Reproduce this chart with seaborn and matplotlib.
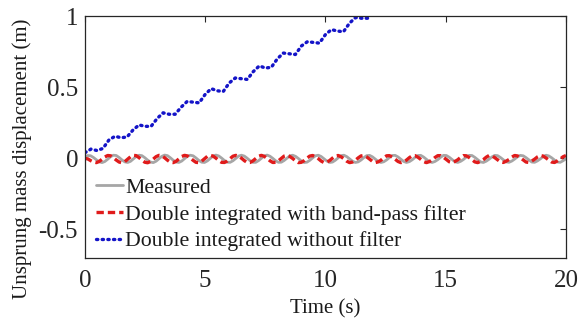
import numpy as np
import pandas as pd
import matplotlib
matplotlib.use("Agg")
import matplotlib.pyplot as plt
import seaborn as sns

# ---- data ----
measured = [
    0.010, 0.020, 0.018, 0.006, -0.010, -0.024, -0.030, -0.022,
    -0.006, 0.012, 0.022, 0.020, 0.006, -0.011, -0.025, -0.029, -0.021,
    -0.004, 0.013, 0.022, 0.019, 0.005, -0.012, -0.026, -0.030,
    -0.020, -0.003, 0.014, 0.023, 0.019, 0.004, -0.013, -0.026, -0.029,
    -0.019, -0.002, 0.015, 0.022, 0.018, 0.003, -0.014, -0.027, -0.029,
    -0.018, -0.001, 0.016, 0.023, 0.017, 0.002, -0.015, -0.027, -0.028,
    -0.017, 0.000, 0.016, 0.022, 0.016, 0.001, -0.016, -0.028, -0.028,
    -0.016, 0.001, 0.017, 0.023, 0.015, 0.000, -0.017, -0.028, -0.027,
    -0.015, 0.002, 0.018, 0.022, 0.014, -0.001, -0.018, -0.029, -0.027,
    -0.014, 0.003, 0.018, 0.022, 0.013, -0.003, -0.019, -0.029, -0.026,
    -0.013, 0.004, 0.019, 0.022, 0.012, -0.004, -0.020, -0.029, -0.025,
    -0.012, 0.005, 0.019, 0.021, 0.011, -0.005, -0.021, -0.029, -0.024,
    -0.011, 0.006, 0.020, 0.021, 0.010, -0.006, -0.022, -0.029, -0.023,
    -0.010, 0.007, 0.020, 0.021, 0.009, -0.007, -0.023, -0.029, -0.022,
    -0.009, 0.008, 0.021, 0.020, 0.008, -0.008, -0.024, -0.029, -0.021,
    -0.008, 0.009, 0.021, 0.020, 0.007, -0.009, -0.025, -0.029, -0.020,
    -0.006, 0.010, 0.021, 0.019, 0.006, -0.010, -0.025, -0.028, -0.019,
    -0.005, 0.011, 0.021, 0.018, 0.005, -0.011, -0.026, -0.028, -0.018,
    -0.004, 0.012, 0.022, 0.017, 0.004, -0.012, -0.026, -0.028, -0.017,
    -0.003,
]

bandpass = [
    0.000, -0.004, -0.016, -0.026, -0.030, -0.022, -0.006, 0.010,
    0.020, 0.018, 0.004, -0.012, -0.026, -0.031, -0.023, -0.006, 0.011,
    0.021, 0.019, 0.005, -0.012, -0.027, -0.031, -0.022, -0.005,
    0.012, 0.021, 0.018, 0.004, -0.013, -0.027, -0.030, -0.021, -0.004,
    0.013, 0.021, 0.017, 0.003, -0.014, -0.028, -0.030, -0.020, -0.003,
    0.014, 0.021, 0.016, 0.002, -0.015, -0.028, -0.029, -0.019, -0.002,
    0.015, 0.021, 0.015, 0.001, -0.016, -0.029, -0.029, -0.018, -0.001,
    0.015, 0.021, 0.014, 0.000, -0.017, -0.029, -0.028, -0.017, 0.000,
    0.016, 0.021, 0.013, -0.001, -0.018, -0.030, -0.028, -0.016, 0.001,
    0.016, 0.020, 0.012, -0.002, -0.019, -0.030, -0.027, -0.015, 0.002,
    0.017, 0.020, 0.011, -0.003, -0.020, -0.030, -0.026, -0.014, 0.003,
    0.017, 0.020, 0.010, -0.005, -0.021, -0.030, -0.025, -0.013, 0.004,
    0.018, 0.019, 0.009, -0.006, -0.022, -0.030, -0.024, -0.012, 0.005,
    0.018, 0.019, 0.008, -0.007, -0.023, -0.030, -0.023, -0.011, 0.006,
    0.019, 0.019, 0.007, -0.008, -0.024, -0.030, -0.022, -0.010, 0.007,
    0.019, 0.018, 0.006, -0.009, -0.025, -0.030, -0.021, -0.009, 0.008,
    0.020, 0.018, 0.005, -0.010, -0.025, -0.029, -0.020, -0.008, 0.009,
    0.020, 0.017, 0.004, -0.011, -0.026, -0.029, -0.019, -0.006, 0.010,
    0.020, 0.016, 0.003, -0.012, -0.026, -0.029, -0.018, -0.005, 0.011,
    0.020,
]

# samples of the measured / band-pass series are evenly spaced over 0-20 s
n_fine = min(len(measured), len(bandpass))
measured = measured[:n_fine]
bandpass = bandpass[:n_fine]
t_fine = [20.0 * i / (n_fine - 1) for i in range(n_fine)]

unfiltered = [
    0.04, 0.065, 0.055, 0.07, 0.13, 0.155, 0.145, 0.15,
    0.20, 0.235, 0.225, 0.225, 0.28, 0.32, 0.31, 0.31,
    0.36, 0.40, 0.395, 0.39, 0.45, 0.49, 0.475, 0.47,
    0.53, 0.565, 0.56, 0.555, 0.61, 0.65, 0.635, 0.64,
    0.70, 0.74, 0.735, 0.73, 0.79, 0.82, 0.815, 0.81,
    0.87, 0.905, 0.895, 0.89, 0.95, 0.99, 0.985, 0.985,
    1.04, 1.07,
]
# unfiltered samples every 0.25 s
t_raw = [i * 0.25 for i in range(len(unfiltered))]

labels = ["Measured", "Double integrated with band-pass filter",
          "Double integrated without filter"]
xticks = [0, 5, 10, 15, 20]
yticks = [-0.5, 0, 0.5, 1]
ytick_labels = ["-0.5", "0", "0.5", "1"]

# ---- plotting ----
sns.set_theme(style="white")
plt.rcParams["font.family"] = ["Liberation Serif", "DejaVu Serif"]

fig = plt.figure(figsize=(5.84, 3.22), dpi=100)
ax = fig.add_axes([0.1455, 0.199, 0.8235, 0.751])

df_fine = pd.DataFrame({"t": t_fine, "measured": measured, "bandpass": bandpass})
df_raw = pd.DataFrame({"t": t_raw, "unfiltered": unfiltered})

sns.lineplot(data=df_fine, x="t", y="measured", ax=ax, color="#a6a6a6",
             linewidth=2.0, label=labels[0])
sns.lineplot(data=df_fine, x="t", y="bandpass", ax=ax, color="#e01b1b",
             linewidth=2.4, linestyle=(0, (2.2, 1.2)), label=labels[1])
sns.lineplot(data=df_raw, x="t", y="unfiltered", ax=ax, color="#1414c8",
             linewidth=2.4, linestyle=(0, (0.4, 1.3)), dash_capstyle="round",
             label=labels[2])

ax.set_xlim(0, 20)
ax.set_ylim(-0.7, 1.0)
ax.set_xticks(xticks)
ax.set_xticklabels([str(v) for v in xticks])
ax.set_yticks(yticks)
ax.set_yticklabels(ytick_labels)
ax.tick_params(direction="in", length=4, width=0.8, top=True, right=True,
               labelsize=18, colors="#262626")
ax.tick_params(axis="x", pad=9)
ax.tick_params(axis="y", pad=5)
for sp in ax.spines.values():
    sp.set_visible(True)
    sp.set_color("#262626")
    sp.set_linewidth(0.9)

ax.set_xlabel("Time (s)", fontsize=15, color="#1a1a1a", labelpad=5)
ax.set_ylabel("Unsprung mass displacement (m)", fontsize=15, color="#1a1a1a",
              labelpad=4)
ax.yaxis.set_label_coords(-0.11, 0.41)

leg = ax.legend(loc="lower left", frameon=False, fontsize=15.7,
                handlelength=1.25, handletextpad=0.08, labelspacing=0.3,
                borderaxespad=0.1, bbox_to_anchor=(0.0, -0.018))
for txt in leg.get_texts():
    txt.set_color("#1a1a1a")

fig.savefig("out.png", dpi=100)
